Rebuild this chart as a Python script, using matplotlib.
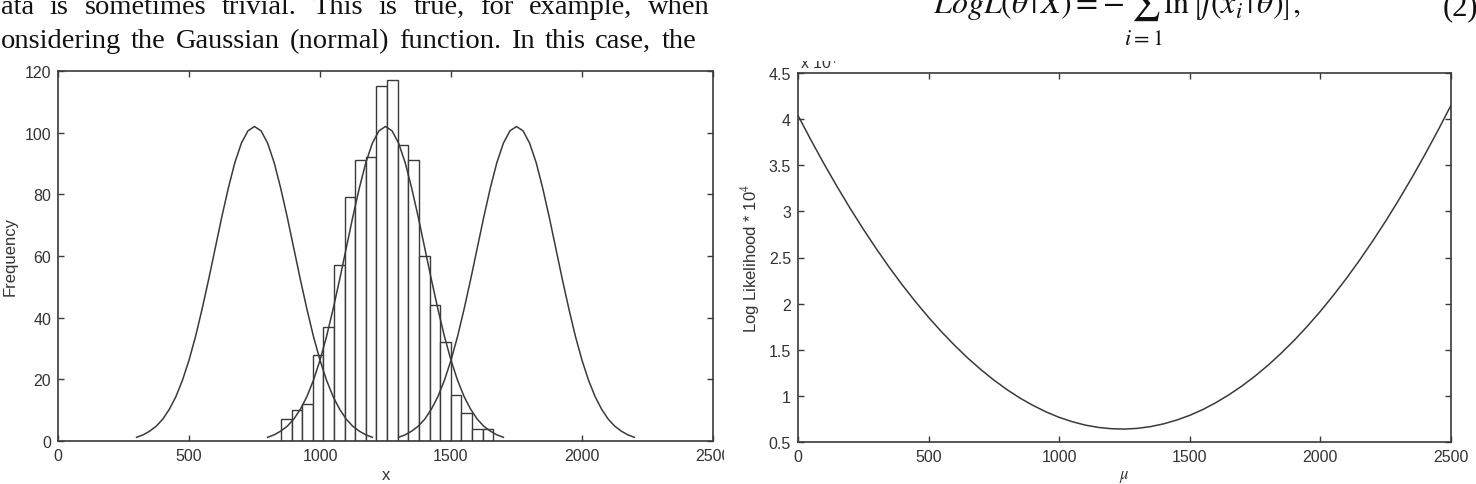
import matplotlib.pyplot as plt
from matplotlib.transforms import Bbox, TransformedBbox

W, H = 1476, 485

# ---- left panel: histogram of x and three candidate gaussians
bin_edges = [851, 891.5, 932, 972.5, 1013, 1053.5, 1094, 1134.5, 1175, 1215.5, 1256,
             1296.5, 1337, 1377.5, 1418, 1458.5, 1499, 1539.5, 1580, 1620.5, 1661]
counts = [7, 10, 12, 28, 37, 57, 79, 91, 92, 115, 117, 96, 91, 60, 44, 32, 15, 9, 4, 4]

gauss_offsets = [-450, -425, -400, -375, -350, -325, -300, -275, -250, -225, -200, -175,
                 -150, -125, -100, -75, -50, -25, 0, 25, 50, 75, 100, 125, 150, 175, 200,
                 225, 250, 275, 300, 325, 350, 375, 400, 425, 450]
gauss_values = [1.2, 2.0, 3.2, 4.8, 7.1, 10.3, 14.4, 19.7, 26.2, 33.9, 42.8, 52.4, 62.5,
                72.6, 82.0, 90.3, 96.6, 100.6, 102, 100.6, 96.6, 90.3, 82.0, 72.6, 62.5,
                52.4, 42.8, 33.9, 26.2, 19.7, 14.4, 10.3, 7.1, 4.8, 3.2, 2.0, 1.2]
gauss_centers = [750, 1250, 1750]

# ---- right panel: log likelihood vs mu (units of 1e4)
mu = [0, 50, 100, 150, 200, 250, 300, 350, 400, 450, 500, 550, 600, 650, 700, 750,
      800, 850, 900, 950, 1000, 1050, 1100, 1150, 1200, 1250, 1300, 1350, 1400, 1450,
      1500, 1550, 1600, 1650, 1700, 1750, 1800, 1850, 1900, 1950, 2000, 2050, 2100,
      2150, 2200, 2250, 2300, 2350, 2400, 2450, 2500]
loglik = [4.040, 3.771, 3.513, 3.267, 3.031, 2.807, 2.594, 2.391, 2.200, 2.020, 1.851,
          1.693, 1.546, 1.410, 1.285, 1.171, 1.068, 0.976, 0.896, 0.826, 0.767, 0.720,
          0.683, 0.658, 0.644, 0.640, 0.648, 0.667, 0.697, 0.738, 0.789, 0.852, 0.927,
          1.012, 1.108, 1.215, 1.333, 1.463, 1.603, 1.755, 1.917, 2.091, 2.275, 2.471,
          2.678, 2.895, 3.124, 3.364, 3.615, 3.877, 4.150]

x_ticks = [0, 500, 1000, 1500, 2000, 2500]
freq_ticks = [0, 20, 40, 60, 80, 100, 120]
ll_ticks = [0.5, 1, 1.5, 2, 2.5, 3, 3.5, 4, 4.5]
ll_labels = ['0.5', '1', '1.5', '2', '2.5', '3', '3.5', '4', '4.5']

text_lines = ["ata is sometimes trivial. This is true, for example, when",
              "onsidering the Gaussian (normal) function. In this case, the"]

ink = '#3a3a3a'
plt.rcParams['font.family'] = ['Liberation Sans', 'DejaVu Sans']
plt.rcParams['mathtext.fontset'] = 'stix'

fig = plt.figure(figsize=(W / 100, H / 100), dpi=100)
fig.patch.set_facecolor('white')


def box(l, t, r, b):
    return [l / W, 1 - b / H, (r - l) / W, (b - t) / H]


def style(ax):
    for s in ax.spines.values():
        s.set_color(ink)
        s.set_linewidth(1.2)
    ax.tick_params(direction='in', length=4, width=1, colors=ink, labelcolor='#333333',
                   labelsize=11.5, top=True, right=True, pad=5)


ax1 = fig.add_axes(box(58, 72, 713, 442))
lefts = bin_edges[:-1]
widths = [b - a for a, b in zip(bin_edges[:-1], bin_edges[1:])]
ax1.bar(lefts, counts, width=widths, align='edge', facecolor='white', edgecolor=ink,
        linewidth=1.0, zorder=2)
for c in gauss_centers:
    ax1.plot([c + o for o in gauss_offsets], gauss_values, color=ink, lw=1.1, zorder=3)
ax1.set_xlim(0, 2500)
ax1.set_ylim(0, 120)
ax1.set_xticks(x_ticks)
ax1.set_yticks(freq_ticks)
ax1.set_xlabel('x', fontsize=12, color='#333333', labelpad=3)
ax1.set_ylabel('Frequency', fontsize=12, color='#333333', labelpad=5)
style(ax1)

ax2 = fig.add_axes(box(798, 74, 1451, 443))
ax2.plot(mu, loglik, color=ink, lw=1.1)
ax2.set_xlim(0, 2500)
ax2.set_ylim(0.5, 4.5)
ax2.set_xticks(x_ticks)
ax2.set_yticks(ll_ticks)
ax2.set_yticklabels(ll_labels)
ax2.set_xlabel(r'$\mu$', fontsize=12, color='#333333', labelpad=3)
ax2.set_ylabel(r'Log Likelihood * 10$^4$', fontsize=12, color='#333333', labelpad=5)
style(ax2)

# the page crop cuts the "2500" of the left panel and the top of the "x 10^4"
fig.canvas.draw()
crop_left = TransformedBbox(Bbox([[0, 0], [724 / W, 1]]), fig.transFigure)
lab = ax1.xaxis.get_major_ticks()[-1].label1
lab.set_clip_box(crop_left)
lab.set_clip_on(True)

off = fig.text(800 / W, 1 - 69 / H, r'x 10$^4$', fontsize=11.5, color='#333333',
               va='baseline')
off.set_clip_box(TransformedBbox(Bbox([[0, 0], [1, 1 - 62 / H]]), fig.transFigure))
off.set_clip_on(True)

# body text above the figure (justified lines)
renderer = fig.canvas.get_renderer()
line_specs = [(14, 710), (48, 696)]
for line, (base, right) in zip(text_lines, line_specs):
    words = line.split(' ')
    objs = [fig.text(0, 1 - base / H, w, fontsize=20.5, family='Liberation Serif',
                     color='#111111', va='baseline') for w in words]
    ws = [o.get_window_extent(renderer).width for o in objs]
    gap = (right - 1 - sum(ws)) / (len(words) - 1)
    x = 1
    for o, w in zip(objs, ws):
        o.set_x(x / W)
        x += w + gap

# equation (2), top of it cut by the page crop
fig.text(933 / W, 1 - 15 / H,
         r'$LogL\left(\theta\,|\,X\right)=-\sum_{i=1}^{N}\ln\left[f\left(x_i\,|\,\theta\right)\right],$',
         fontsize=23, color='#111111', va='baseline')
fig.text(1443 / W, 1 - 15 / H, '(2)', fontsize=22, family='Liberation Serif',
         color='#111111', va='baseline')

fig.savefig('out.png', dpi=100, facecolor='white')
